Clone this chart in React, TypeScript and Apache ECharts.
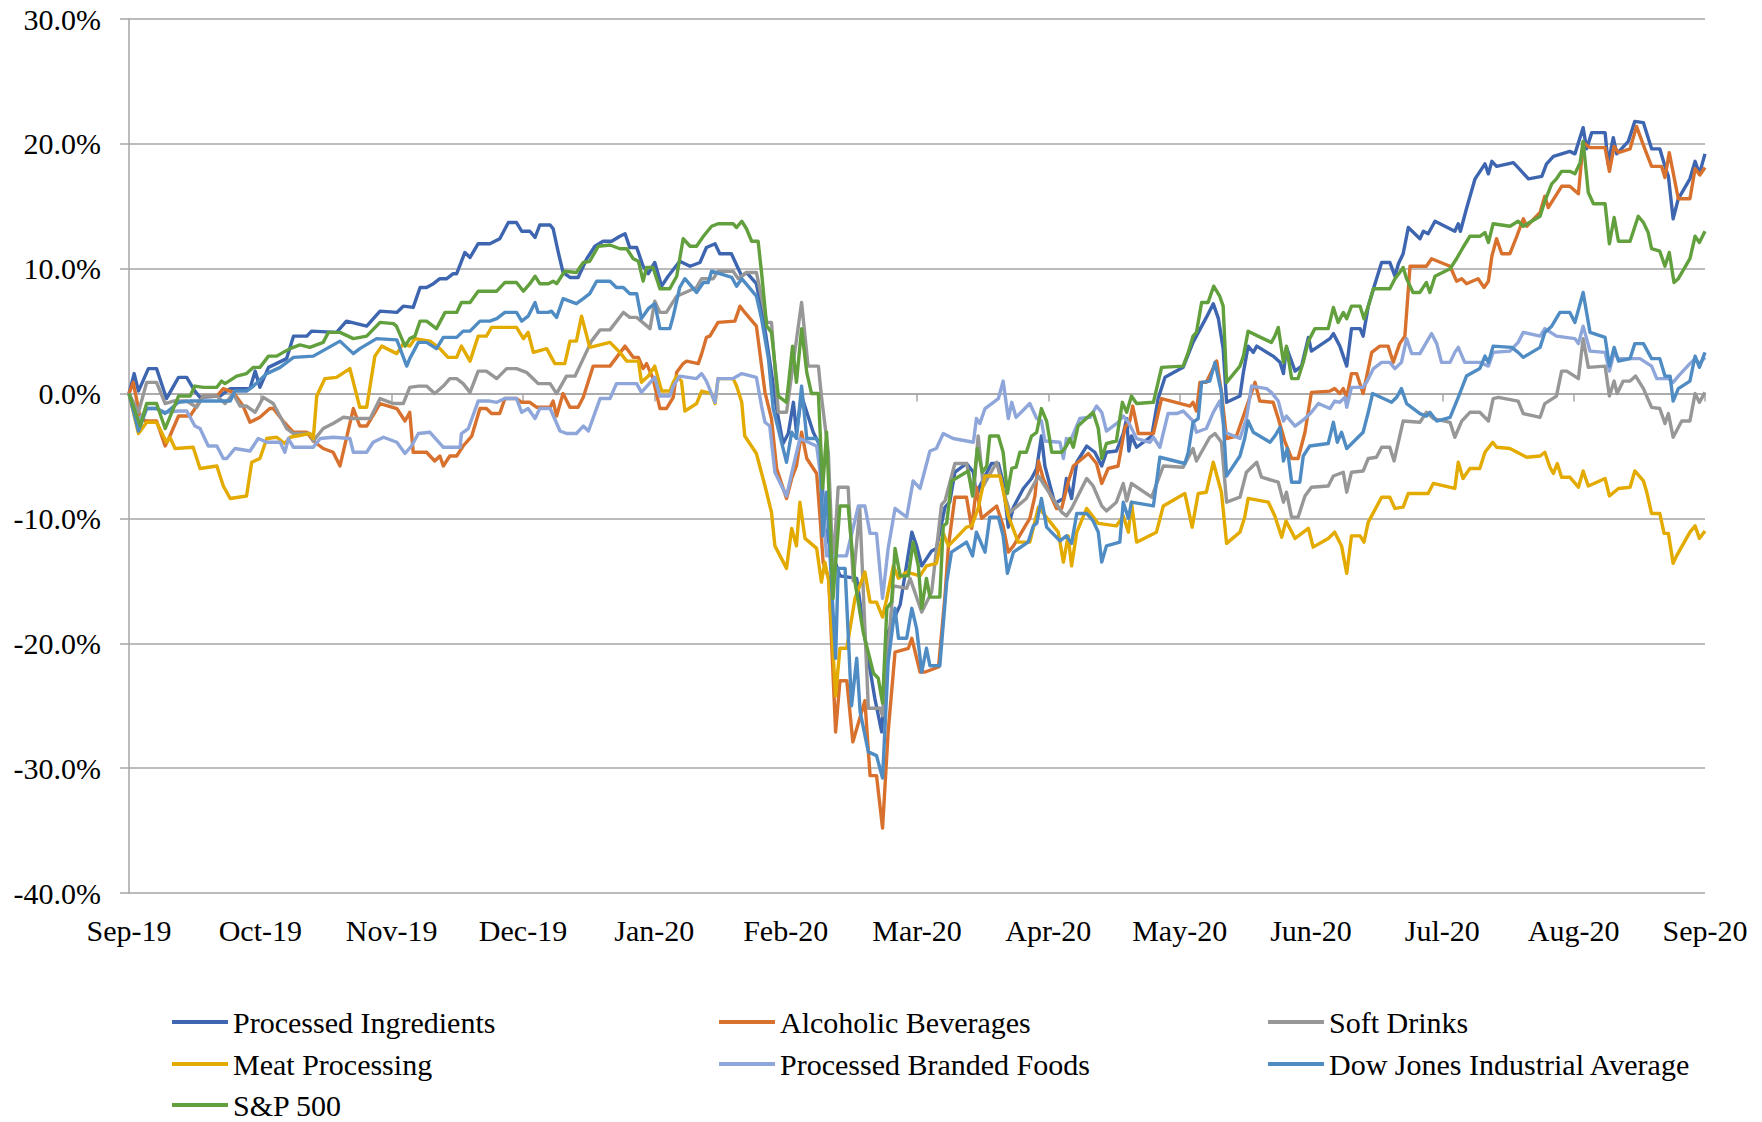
import React, { useEffect, useRef } from 'react';
import * as echarts from 'echarts';

type Pt = [number, number];

// x = days since the Sep-19 tick (Sep-20 tick = 366), y = % change
const monthLabels = ['Sep-19', 'Oct-19', 'Nov-19', 'Dec-19', 'Jan-20', 'Feb-20', 'Mar-20', 'Apr-20', 'May-20', 'Jun-20', 'Jul-20', 'Aug-20', 'Sep-20'];

const processedIngredients: Pt[] = [
  [0, 0], [1.2, 1.6], [2.2, 0.2], [4.5, 2.0], [6.4, 2.0], [8.7, -0.4], [11.5, 1.3], [13.4, 1.3], [15.3, 0.2], [16.5, -0.3], [21.1, -0.2], [23.5, 0.4], [28.1, 0.4], [29.3, 1.8], [30.4, 0.5], [32.4, 2.1], [36.6, 2.8], [38.2, 4.6], [41.3, 4.6], [42.4, 5.0], [48.2, 4.9], [50.5, 5.8], [55.2, 5.4], [58.3, 6.6], [62.2, 6.5], [63.7, 7.0],
  [66.0, 6.9], [67.6, 8.5], [69.1, 8.5], [70.7, 8.8], [72.2, 9.2], [73.8, 9.2], [75.3, 9.6], [76.1, 9.6], [78.0, 11.3], [79.2, 10.9], [81.1, 12.0], [83.8, 12.0], [86.1, 12.4], [88.1, 13.7], [90.0, 13.7], [91.2, 13.0], [93.1, 13.0], [94.3, 12.5], [95.4, 13.5], [97.8, 13.5], [98.5, 13.2], [99.7, 11.3], [100.8, 9.7], [102.4, 9.3], [104.3, 9.3], [106.3, 10.8], [108.2, 11.8], [110.1, 12.2], [112.1, 12.2], [114.0, 12.6], [115.2, 12.8], [116.3, 11.7], [117.9, 11.7], [119.4, 10.2], [120.6, 9.6], [122.1, 10.5], [123.7, 8.6],
  [125.2, 9.4], [127.9, 10.6], [130.3, 10.2], [132.6, 10.5], [134.1, 11.7], [136.1, 12.0], [137.2, 11.2], [139.9, 11.2], [142.3, 9.4], [143.4, 9.7], [145.7, 8.8], [147.3, 6.0], [148.5, 3.3], [150.4, -1.2], [151.9, -4.0], [153.1, -3.2], [154.3, -0.7], [155.0, -3.1], [156.2, -0.2], [158.9, -3.1], [160.5, -4.2], [161.6, -10.8], [163.2, -12.7], [165.1, -14.6], [169.0, -14.8], [170.9, -19.6], [173.2, -24.4], [174.8, -27.1], [176.3, -19.1], [179.1, -16.9], [181.8, -11.1], [182.9, -12.2], [184.1, -13.8], [186.4, -12.6], [187.5, -12.4], [189.5, -9.1], [190.6, -8.7], [191.8, -6.3], [194.5, -5.6], [196.1, -6.3], [196.8, -8.3], [197.6, -7.4], [200.3, -5.6], [201.9, -5.6], [203.0, -7.1], [204.2, -10.7], [205.4, -9.1], [207.7, -7.6], [209.6, -6.8], [210.8, -6.0], [211.9, -3.4], [212.7, -5.8], [215.0, -8.8], [217.0, -8.4], [217.7, -6.8], [218.9, -8.4], [220.1, -5.5], [222.4, -4.2], [224.3, -4.7], [225.9, -5.8], [227.0, -4.7], [229.3, -4.6], [230.9, -3.2], [231.7, -2.0], [232.2, -4.6], [232.8, -3.4], [234.0, -4.3], [237.5, -3.4], [239.0, -0.4], [240.6, 1.3], [244.8, 2.1], [247.1, 4.1], [250.2, 6.1], [251.8, 7.2],
  [253.0, 6.0], [254.1, 3.6], [254.9, -0.7], [258.0, -0.2], [258.8, 1.7], [259.9, 3.8], [261.1, 3.3], [261.9, 3.8], [265.7, 3.0], [267.3, 2.5], [268.1, 1.6], [268.8, 3.7], [270.8, 1.8], [272.3, 2.2], [273.9, 4.5], [274.6, 3.4], [278.9, 4.4], [279.7, 4.8], [281.2, 3.8], [282.8, 2.2], [283.9, 5.2], [285.9, 5.2], [286.6, 4.6], [287.8, 7.0], [289.0, 8.4], [290.9, 10.5], [292.8, 10.5], [294.0, 9.4], [294.8, 10.4], [295.9, 11.2], [297.1, 13.3], [299.8, 12.4], [300.6, 13.0], [301.7, 12.8], [303.3, 13.8], [307.9, 13.0], [308.7, 13.6], [309.2, 13.0], [310.6, 14.8],
  [312.6, 17.2], [314.9, 18.4], [315.7, 17.6], [316.5, 18.6], [317.6, 18.2], [321.5, 18.5], [322.6, 18.1], [325.0, 17.2], [328.1, 17.4], [329.2, 18.4], [330.8, 19.0], [334.6, 19.4], [335.8, 19.2], [337.7, 21.3], [338.5, 19.6], [339.7, 20.9], [342.8, 20.9], [343.5, 18.4], [344.7, 20.5], [345.5, 19.2], [348.2, 20.2], [349.7, 21.8], [351.7, 21.7], [353.6, 19.6], [355.5, 19.6], [356.7, 18.2], [357.5, 17.4], [358.6, 14.0], [359.8, 15.6], [362.5, 17.2], [363.7, 18.6], [364.7, 17.6], [366, 19.2],
];

const alcoholicBeverages: Pt[] = [
  [0, 0], [1.0, 0.9], [2.6, -2.0], [4.1, -2.2], [6.4, -2.2], [8.4, -4.2], [9.5, -3.4], [11.5, -1.8], [14.2, -1.8], [15.7, -1.0], [17.3, -0.2], [20.4, -0.2], [21.9, 0.4], [24.2, 0.1], [26.5, -1.0], [28.1, -2.3], [30.4, -1.9], [32.7, -1.2], [33.5, -1.2], [35.8, -2.2], [38.2, -3.1], [41.3, -3.1], [42.8, -3.8], [45.1, -4.4], [47.4, -4.7], [49.0, -5.8], [52.1, -1.2], [53.6, -2.6], [55.2, -2.6], [58.3, -0.8], [62.2, -1.2], [64.1, -2.2],
  [65.2, -1.5], [66.0, -4.7], [69.1, -4.7], [71.0, -5.4], [72.2, -5.0], [73.0, -5.8], [74.5, -5.0], [76.1, -5.0], [77.6, -4.2], [79.6, -3.4], [81.5, -1.2], [83.0, -1.2], [84.2, -1.6], [86.1, -1.6], [87.3, -0.4], [90.0, -0.4], [91.2, -0.7], [93.1, -0.7], [94.7, -1.1], [97.8, -1.1], [98.5, -0.6], [99.3, -1.8], [100.8, 0], [102.4, -1.1], [104.3, -1.1], [105.5, -0.3], [107.8, 2.2], [111.7, 2.2], [115.2, 3.8], [117.1, 2.9], [118.3, 2.9], [119.4, 2.0], [120.2, 2.4], [121.7, 1.2], [123.3, -1.2],
  [124.8, -1.2], [126.4, -0.3], [127.2, 1.7], [128.7, 2.4], [129.5, 2.6], [132.2, 2.4], [133.0, 3.2], [134.1, 4.5], [134.9, 4.6], [136.8, 5.7], [140.7, 5.8], [141.9, 7.0], [143.0, 6.5], [145.7, 5.4], [146.5, 3.3], [147.7, 0.1], [149.2, -2.0], [150.4, -6.0], [152.7, -8.4], [153.9, -6.8], [155.0, -5.8], [156.2, -3.1], [157.4, -5.2], [159.7, -6.4], [160.5, -10.0], [161.2, -13.5], [162.5, -14.8], [164.1, -27.1], [165.1, -23.0], [166.7, -23.0], [168.1, -27.9], [170.9, -24.6], [172.1, -30.6], [173.6, -30.6], [175.0, -34.8], [176.3, -27.1], [177.9, -20.7], [181.0, -20.4], [181.8, -19.6], [183.7, -22.3], [184.9, -22.3], [188.0, -21.9], [189.5, -16.2],
  [190.3, -12.2], [191.8, -8.3], [194.5, -8.3], [195.7, -10.8], [196.8, -7.5], [198.0, -10.0], [201.5, -9.0], [203.0, -10.6], [204.2, -12.7], [205.4, -12.2], [209.2, -10.0], [210.4, -8.2], [211.2, -5.4], [212.3, -6.8], [215.4, -9.2], [216.6, -9.2], [218.1, -7.1], [219.3, -5.8], [222.8, -4.8], [224.7, -5.6], [225.9, -7.2], [227.4, -6.0], [229.7, -5.8], [231.3, -2.7], [232.4, -2.2], [233.1, -1.0], [234.4, -3.2], [237.9, -3.2], [239.8, -0.4], [246.4, -1.0], [247.1, -0.7], [247.9, -1.4], [248.7, 0.9], [250.2, 0.9], [252.6, 2.6],
  [253.7, 0.1], [254.9, -3.6], [257.2, -3.4], [258.8, -1.8], [261.5, 0.9], [262.6, -0.6], [265.7, -0.7], [266.9, -2.0], [268.4, -3.8], [270.0, -5.2], [271.5, -5.2], [273.1, -3.1], [274.6, 0.1], [278.9, 0.2], [280.0, 0.4], [281.2, 0], [282.0, 0.4], [282.8, -0.3], [283.9, 1.6], [285.1, 1.6], [286.6, 0], [288.6, 3.3], [290.5, 3.8], [292.4, 3.8], [293.6, 2.5], [295.1, 4.0], [296.3, 4.6], [297.5, 10.2], [301.3, 10.2], [302.5, 10.8], [306.8, 10.2], [308.3, 9.0], [309.5, 9.2], [310.6, 8.8], [313.3, 9.2], [314.7, 8.5],
  [315.7, 9.0], [316.5, 11.0], [317.6, 12.4], [318.8, 11.2], [320.7, 11.2], [322.3, 12.6], [323.8, 14.0], [324.6, 13.4], [327.7, 14.5], [328.8, 15.8], [329.6, 14.9], [332.7, 16.6], [334.6, 16.6], [336.6, 16.0], [337.7, 20.1], [339.3, 19.7], [342.8, 19.7], [343.8, 17.8], [344.9, 19.8], [345.9, 19.3], [348.6, 19.6], [350.1, 21.4], [351.8, 19.8], [353.6, 18.2], [355.9, 18.2], [356.7, 17.3], [357.7, 19.3], [359.8, 15.6], [362.5, 15.6], [363.7, 18.0], [364.8, 17.5], [366, 18.1],
];

const softDrinks: Pt[] = [
  [0, 0], [2.2, -1.5], [4.1, 0.9], [6.4, 0.9], [8.4, -0.8], [10.3, -0.6], [13.4, -0.6], [15.7, -1.1], [17.3, -0.2], [20.4, -0.2], [22.3, -0.8], [24.2, 0], [25.8, -1.0], [27.3, -1.0], [29.3, -1.5], [31.2, -0.3], [33.5, -0.8], [36.6, -2.8], [38.2, -3.2], [42.0, -3.2], [42.8, -3.8], [45.1, -2.8], [47.4, -2.4], [49.8, -1.9], [52.1, -2.0], [56.0, -2.0], [58.3, -0.4], [61.4, -0.8], [63.7, -0.8],
  [65.2, 0.5], [67.2, 0.6], [69.1, 0.6], [71.0, 0], [73.0, 0.6], [74.5, 1.2], [76.1, 1.2], [77.6, 0.8], [79.2, 0.1], [81.1, 1.8], [83.0, 1.8], [85.4, 1.2], [87.7, 2.0], [90.0, 2.0], [92.3, 1.7], [95.0, 0.8], [97.8, 0.8], [99.3, 0], [101.6, 1.4], [103.6, 1.4], [105.5, 2.8], [107.4, 4.2], [109.4, 5.1], [111.7, 5.1], [114.8, 6.5], [116.3, 6.1], [117.9, 6.1], [121.0, 5.2], [122.1, 7.4], [123.3, 6.5],
  [124.8, 6.5], [127.2, 7.8], [131.8, 8.5], [133.0, 9.2], [135.7, 9.2], [136.8, 9.8], [140.3, 9.8], [141.5, 9.2], [143.4, 9.7], [145.7, 9.7], [148.1, 5.7], [149.2, 5.7], [150.8, -1.5], [152.7, -1.5], [154.6, 3.3], [156.2, 7.3], [157.7, 2.2], [160.1, 2.2], [160.8, -0.2], [162.4, -4.7], [163.5, -14.0], [164.7, -7.5], [167.0, -7.5], [168.2, -15.0], [169.7, -9.2], [171.7, -25.2], [174.4, -25.2], [175.0, -25.8], [177.5, -15.4], [180.6, -15.6], [181.4, -14.8], [184.1, -17.5], [186.4, -15.9], [188.7, -8.9],
  [189.5, -8.6], [191.8, -5.6], [194.5, -5.6], [196.1, -8.2], [197.2, -3.4], [198.4, -7.4], [201.5, -5.5], [203.4, -8.2], [204.6, -9.5], [208.4, -8.4], [209.6, -7.6], [211.2, -6.6], [212.7, -7.4], [216.6, -9.5], [217.7, -9.8], [218.9, -9.2], [222.4, -6.8], [223.9, -7.4], [225.9, -9.0], [227.0, -9.4], [229.3, -8.7], [230.9, -7.2], [231.7, -8.6], [232.8, -7.2], [237.5, -8.3], [240.2, -5.8], [244.8, -5.9], [247.1, -4.4], [247.9, -5.4], [251.0, -3.5], [252.2, -3.2],
  [253.7, -3.9], [254.9, -8.7], [258.0, -8.3], [259.5, -6.3], [261.9, -5.5], [263.0, -6.7], [266.9, -7.1], [268.1, -8.7], [268.8, -7.9], [270.0, -9.9], [271.5, -9.9], [273.1, -8.2], [274.6, -7.5], [278.5, -7.4], [279.7, -6.6], [282.0, -6.3], [282.8, -7.9], [283.9, -6.3], [286.6, -6.2], [287.8, -5.2], [289.7, -5.1], [290.9, -4.3], [292.8, -4.3], [293.8, -5.4], [295.9, -2.2], [299.8, -2.3], [301.3, -1.5], [302.9, -2.0], [306.8, -2.3], [307.9, -3.5], [309.5, -2.2], [311.4, -1.5], [313.7, -1.5], [315.7, -2.2],
  [316.8, -0.4], [318.0, -0.3], [322.6, -0.6], [323.8, -1.6], [327.7, -1.9], [328.8, -0.8], [331.5, -0.2], [332.7, 1.8], [333.9, 1.8], [336.6, 1.2], [337.7, 4.4], [338.9, 2.1], [342.8, 2.2], [343.8, -0.2], [344.9, 1.0], [345.6, 0], [347.0, 1.0], [348.6, 1.0], [349.9, 1.4], [351.7, 0.4], [353.6, -1.1], [355.5, -1.2], [356.7, -2.4], [357.5, -1.6], [358.6, -3.5], [360.6, -2.2], [362.5, -2.2], [363.7, 0], [364.7, -0.7], [366, 0.1],
];

const meatProcessing: Pt[] = [
  [0, 0], [2.2, -3.2], [4.1, -2.3], [6.4, -2.3], [8.7, -3.9], [9.5, -3.5], [10.7, -4.4], [14.9, -4.3], [16.5, -6.0], [20.4, -5.8], [21.9, -7.4], [23.5, -8.4], [27.3, -8.2], [28.5, -5.5], [30.4, -5.2], [32.0, -3.6], [34.3, -3.5], [36.2, -4.0], [37.4, -3.5], [42.0, -3.2], [42.8, -3.6], [43.6, -0.2], [45.5, 1.2], [48.2, 1.3], [51.3, 2.0], [53.6, -1.1], [55.2, -1.1], [57.1, 3.0], [58.7, 3.8], [62.2, 3.2], [63.7, 4.0],
  [65.2, 3.8], [66.4, 4.4], [69.9, 4.2], [72.2, 3.6], [74.1, 2.9], [76.1, 2.9], [77.2, 3.8], [79.2, 2.6], [81.1, 4.6], [83.0, 4.6], [84.2, 5.3], [90.0, 5.3], [91.6, 4.4], [92.7, 4.9], [93.9, 3.3], [97.0, 3.6], [98.9, 2.4], [101.2, 2.4], [102.4, 4.2], [103.9, 4.2], [105.1, 6.2], [107.0, 3.7], [111.7, 4.1], [114.0, 3.3], [115.6, 2.6], [118.3, 2.6], [119.0, 0.9], [120.6, 1.4], [122.1, 2.2], [123.7, 0.2], [125.6, 0.2],
  [126.4, 0.9], [127.2, 1.4], [128.3, 1.0], [129.1, -1.4], [131.8, -0.8], [133.0, 0.2], [135.3, 0], [136.1, -0.8], [136.8, 1.2], [140.3, 1.2], [141.1, 0.6], [142.3, -0.7], [143.0, -3.4], [145.7, -4.8], [147.7, -7.4], [149.2, -9.5], [150.0, -12.2], [152.7, -14.0], [153.9, -10.8], [155.0, -12.2], [155.8, -8.7], [157.0, -11.6], [159.7, -12.4], [160.8, -15.1], [161.6, -13.5], [162.5, -15.0], [164.1, -24.2], [165.1, -20.4], [166.7, -20.4], [168.6, -16.4], [170.9, -14.3], [172.1, -16.7], [173.6, -16.7], [175.0, -17.9], [176.0, -16.4], [177.5, -13.8], [178.7, -14.8], [180.6, -14.3], [183.7, -14.6], [185.2, -13.8], [187.5, -13.6],
  [189.1, -11.2], [190.3, -12.2], [194.5, -10.7], [195.7, -10.6], [197.2, -9.2], [198.8, -6.6], [202.3, -6.6], [204.2, -9.8], [206.5, -11.9], [209.2, -11.9], [211.2, -9.1], [215.8, -11.1], [217.0, -13.5], [218.1, -11.4], [218.9, -13.8], [220.1, -11.1], [222.4, -9.2], [225.1, -10.4], [229.3, -10.6], [230.9, -9.8], [232.1, -11.1], [232.8, -8.7], [234.0, -11.9], [238.6, -11.1], [240.2, -9.0], [245.2, -8.0], [246.9, -10.7], [248.3, -8.0], [250.2, -7.9], [251.8, -5.5],
  [253.7, -7.9], [254.9, -12.0], [258.0, -11.1], [259.1, -9.9], [259.9, -8.4], [264.6, -8.7], [266.1, -9.8], [267.7, -11.5], [268.7, -10.2], [270.8, -11.6], [273.9, -10.8], [275.0, -12.3], [278.5, -11.6], [280.0, -11.1], [281.6, -12.2], [282.8, -14.4], [283.9, -11.4], [285.9, -11.4], [286.8, -11.9], [287.8, -10.3], [290.9, -8.3], [292.8, -8.3], [294.0, -9.2], [295.9, -9.1], [297.1, -8.0], [301.7, -8.0], [302.9, -7.2], [307.9, -7.6], [308.7, -5.5], [309.8, -6.8], [311.4, -6.0], [313.7, -6.0], [314.9, -4.7],
  [316.7, -3.9], [317.6, -4.3], [320.7, -4.4], [324.6, -5.1], [327.7, -5.0], [328.8, -4.7], [330.0, -5.9], [330.8, -6.4], [331.7, -5.6], [332.7, -6.7], [334.6, -6.7], [336.6, -7.5], [337.7, -6.2], [338.9, -7.4], [342.8, -6.8], [343.8, -8.2], [345.9, -7.6], [348.6, -7.5], [349.7, -6.2], [351.7, -7.0], [352.4, -7.8], [353.6, -9.6], [355.5, -9.6], [356.5, -11.2], [357.5, -11.2], [358.6, -13.6], [359.4, -13.0], [362.5, -11.1], [363.7, -10.6], [364.7, -11.6], [366, -11.0],
];

const processedBrandedFoods: Pt[] = [
  [0, 0], [2.2, -2.2], [4.1, -1.2], [6.4, -1.2], [8.4, -1.5], [11.5, -1.4], [13.4, -1.4], [15.3, -2.6], [16.5, -2.8], [18.4, -4.2], [20.4, -4.2], [21.9, -5.2], [22.7, -5.2], [24.6, -4.4], [28.1, -4.6], [30.0, -3.6], [32.0, -3.9], [35.1, -3.9], [36.2, -4.7], [37.0, -3.6], [38.2, -4.3], [42.8, -4.3], [44.4, -3.6], [47.4, -3.5], [51.3, -3.6], [52.1, -4.7], [55.2, -4.7], [56.7, -3.9], [59.1, -3.5], [62.2, -3.9], [64.1, -4.8],
  [65.6, -4.2], [67.2, -3.2], [69.9, -3.1], [73.0, -4.3], [76.9, -4.3], [77.2, -3.2], [78.8, -2.8], [81.1, -0.6], [83.8, -0.6], [85.4, -0.7], [87.3, -0.4], [90.0, -0.4], [91.2, -1.5], [92.7, -1.2], [94.3, -2.0], [95.4, -1.2], [97.8, -1.2], [100.1, -3.0], [101.6, -3.2], [103.9, -3.2], [105.5, -2.6], [106.7, -3.0], [109.4, -0.4], [111.7, -0.4], [113.2, 0.8], [117.9, 0.8], [119.0, 0.1], [122.1, 1.3], [123.3, -0.2], [125.6, -0.2],
  [126.4, 0.6], [127.9, 1.4], [131.8, 1.2], [133.0, 1.6], [134.1, 1.0], [136.1, -0.7], [136.8, 1.2], [140.3, 1.2], [142.3, 1.6], [145.7, 1.3], [146.9, -1.0], [147.7, -2.3], [148.8, -2.6], [150.0, -6.3], [152.7, -8.2], [154.3, -5.8], [155.8, -3.6], [159.7, -4.2], [160.5, -6.3], [162.0, -13.0], [166.6, -13.0], [169.4, -9.0], [170.9, -9.0], [172.1, -11.2], [173.6, -11.2], [175.0, -16.4], [176.3, -12.4], [177.9, -9.2], [180.6, -9.9], [182.1, -7.0], [183.7, -7.6], [186.0, -4.6], [187.5, -4.4], [189.1, -3.2],
  [191.4, -3.6], [196.1, -3.9], [196.8, -2.0], [197.6, -2.4], [198.8, -1.2], [201.9, -0.4], [203.0, 1.0], [204.2, -2.0], [205.0, -0.7], [206.0, -1.9], [209.2, -0.8], [210.8, -2.0], [211.9, -2.2], [212.7, -3.8], [216.2, -3.9], [217.0, -5.2], [217.7, -3.6], [218.5, -3.9], [220.8, -2.0], [223.2, -1.9], [224.7, -1.0], [225.9, -1.5], [227.0, -3.0], [229.7, -2.3], [230.9, -1.8], [232.1, -2.3], [234.0, -3.6], [237.1, -3.9], [237.9, -3.5], [239.4, -4.3], [241.3, -1.6], [243.3, -1.6], [244.8, -1.4], [247.1, -2.2], [247.9, -3.1], [250.2, -2.8], [251.8, -1.5], [253.3, -0.6],
  [254.5, -3.1], [258.0, -3.6], [259.5, -2.0], [260.7, 0.6], [264.2, 0.4], [265.3, 0.1], [266.9, -0.6], [268.1, -2.2], [268.8, -1.8], [270.8, -2.6], [273.1, -2.0], [274.6, -1.5], [276.2, -0.8], [278.9, -1.2], [280.0, -0.6], [281.2, -0.7], [282.4, -0.3], [282.8, -1.1], [283.9, 0.5], [286.6, 0.5], [287.4, 0.9], [289.0, 2.0], [290.9, 2.5], [292.8, 2.5], [294.0, 2.0], [295.5, 2.5], [296.7, 4.4], [297.9, 3.2], [299.8, 3.2], [301.3, 4.1], [302.5, 4.8], [303.7, 4.0], [304.8, 2.5], [306.8, 2.5], [307.9, 3.3], [308.7, 3.7], [310.2, 2.5], [313.7, 2.5],
  [315.7, 2.2], [316.8, 3.3], [320.7, 3.4], [322.6, 4.1], [323.8, 4.9], [327.7, 4.6], [328.8, 5.2], [331.5, 4.6], [335.8, 4.4], [336.6, 4.0], [337.7, 5.4], [339.3, 3.4], [342.8, 3.3], [343.8, 1.8], [344.9, 3.3], [345.9, 2.8], [350.9, 2.8], [353.6, 2.2], [354.8, 1.2], [357.5, 1.2], [358.6, 0.9], [359.8, 1.4], [362.5, 2.4], [363.7, 2.8], [364.7, 2.4], [366, 2.9],
];

const dowJones: Pt[] = [
  [0, 0], [2.2, -3.0], [4.1, -1.2], [6.4, -1.2], [8.4, -1.6], [11.5, -0.7], [14.2, -0.6], [23.5, -0.6], [24.6, 0.2], [27.3, 0.2], [28.9, 0.6], [32.0, 1.6], [35.1, 2.1], [38.2, 2.9], [42.8, 3.0], [45.9, 3.6], [49.0, 4.2], [52.1, 3.2], [53.6, 3.6], [57.5, 4.4], [62.2, 4.3], [64.5, 2.2],
  [65.2, 2.8], [67.2, 4.1], [69.1, 4.1], [71.4, 3.6], [73.0, 4.5], [76.1, 4.5], [77.6, 5.0], [79.2, 5.0], [81.5, 5.8], [83.8, 5.8], [85.4, 6.0], [87.3, 6.5], [90.0, 6.5], [91.2, 5.8], [92.7, 6.2], [94.3, 7.3], [95.0, 6.5], [97.4, 6.5], [98.1, 6.6], [99.3, 6.1], [100.8, 7.6], [103.9, 7.2], [105.5, 7.6], [107.0, 8.0], [108.6, 9.0], [111.7, 9.0], [113.2, 8.5], [114.8, 8.5], [116.3, 8.0], [117.9, 8.0], [119.0, 6.0], [120.6, 6.8], [122.1, 7.2], [123.3, 5.2], [125.6, 5.2],
  [126.4, 6.2], [127.9, 8.5], [129.1, 9.2], [131.8, 8.1], [133.4, 8.9], [134.5, 8.9], [135.3, 9.8], [140.0, 9.3], [141.1, 8.6], [142.3, 9.2], [145.7, 7.8], [146.9, 6.0], [148.5, 2.8], [149.6, -1.2], [152.7, -5.5], [153.9, -3.1], [155.0, -3.6], [156.2, 0.6], [157.4, -3.6], [159.7, -3.6], [160.5, -4.2], [161.1, -11.4], [162.0, -7.9], [164.1, -21.2], [164.7, -14.0], [166.3, -14.0], [167.8, -25.0], [169.0, -21.2], [169.8, -25.5], [171.7, -28.7], [173.6, -29.0], [175.0, -30.8], [176.3, -21.5], [177.9, -17.2], [178.7, -19.6], [180.6, -19.6], [181.8, -17.2], [182.9, -18.8], [184.1, -22.3], [185.2, -20.4], [186.0, -21.8], [188.3, -21.8],
  [189.9, -15.1], [191.0, -12.7], [194.5, -11.9], [195.9, -13.0], [196.8, -11.1], [198.8, -12.7], [199.9, -9.9], [201.9, -9.9], [203.0, -11.4], [204.0, -14.4], [205.4, -12.7], [208.8, -11.9], [210.0, -10.6], [210.8, -10.4], [211.9, -8.4], [213.1, -10.7], [216.2, -11.8], [217.7, -11.4], [218.9, -12.0], [220.1, -9.6], [222.4, -9.6], [223.9, -10.2], [225.1, -11.1], [225.9, -13.5], [227.0, -12.2], [230.1, -11.9], [230.9, -8.7], [232.1, -10.0], [232.8, -8.7], [237.9, -9.0], [239.4, -5.1], [245.2, -5.6], [246.0, -4.7], [247.1, -2.3], [248.3, -2.0], [249.1, 0.9], [251.0, 1.0], [252.2, 2.5],
  [253.0, 1.2], [253.7, 0.1], [254.9, -6.6], [258.0, -5.0], [259.1, -3.6], [259.9, -2.2], [261.1, -3.1], [265.0, -3.9], [266.1, -3.4], [267.3, -2.7], [268.1, -5.4], [269.0, -4.4], [270.0, -7.1], [271.9, -7.1], [272.7, -5.0], [274.2, -4.2], [278.5, -4.0], [279.7, -2.3], [280.6, -3.9], [281.6, -3.1], [282.8, -4.4], [286.6, -3.1], [287.8, -1.5], [288.8, 0], [293.2, -0.7], [294.4, -0.3], [295.5, 0.4], [296.7, -0.8], [299.8, -1.6], [301.3, -1.8], [302.1, -1.5], [303.7, -2.2], [306.8, -1.9], [308.7, -0.3], [310.6, 1.4], [313.7, 2.0], [314.9, 3.0],
  [315.7, 2.5], [316.8, 3.8], [321.1, 3.7], [322.6, 3.3], [323.8, 2.9], [327.7, 3.7], [328.8, 4.9], [330.4, 5.4], [332.3, 6.5], [334.6, 6.5], [335.8, 5.7], [337.7, 8.1], [339.3, 4.9], [342.8, 4.5], [343.8, 2.2], [344.9, 3.7], [345.9, 2.6], [348.6, 2.8], [349.7, 4.0], [351.7, 4.0], [353.6, 2.8], [355.5, 2.8], [356.7, 1.4], [357.9, 1.4], [358.6, -0.6], [359.8, 0.4], [362.5, 1.0], [363.7, 3.0], [364.7, 2.1], [366, 3.3],
];

const sp500: Pt[] = [
  [0, 0], [2.6, -2.6], [4.1, -0.8], [6.4, -0.8], [8.4, -2.8], [11.5, -0.2], [14.2, -0.2], [15.3, 0.6], [17.3, 0.5], [20.4, 0.5], [21.5, 1.0], [22.3, 0.8], [25.0, 1.4], [27.3, 1.6], [28.9, 2.1], [30.4, 2.1], [32.4, 3.0], [34.3, 3.0], [35.8, 3.3], [37.4, 3.6], [39.7, 3.9], [42.0, 3.7], [45.1, 4.1], [46.3, 4.9], [49.0, 4.9], [52.1, 4.4], [55.2, 4.6], [58.3, 5.7], [61.4, 5.6], [62.1, 5.4], [64.1, 3.8],
  [65.2, 4.4], [66.4, 4.6], [67.6, 5.8], [69.1, 5.8], [71.4, 5.2], [73.4, 6.5], [76.1, 6.5], [77.2, 7.3], [79.2, 7.3], [81.1, 8.2], [85.4, 8.2], [87.3, 8.9], [90.0, 8.9], [91.6, 8.2], [93.1, 8.8], [94.3, 9.4], [95.4, 8.8], [97.4, 8.8], [98.5, 9.0], [99.3, 8.8], [101.2, 9.8], [103.9, 9.7], [105.5, 10.5], [107.0, 10.6], [109.0, 11.8], [111.7, 11.9], [114.0, 11.6], [115.6, 11.6], [117.1, 10.8], [118.3, 10.6], [119.4, 9.0], [120.2, 10.1], [121.7, 10.1], [123.3, 8.4], [125.6, 8.4],
  [127.2, 9.4], [128.7, 12.4], [130.3, 11.8], [131.8, 11.8], [133.4, 12.6], [135.3, 13.4], [136.8, 13.6], [140.3, 13.6], [141.1, 13.3], [142.3, 13.8], [143.4, 13.2], [144.6, 12.2], [146.1, 12.2], [146.9, 9.7], [148.1, 5.4], [149.2, 4.9], [150.8, -0.2], [152.7, -0.7], [154.1, 3.8], [155.0, 0.9], [156.2, 5.2], [157.4, 1.7], [158.5, 0], [160.1, 0], [161.1, -7.6], [162.0, -3.1], [163.5, -16.4], [165.1, -9.0], [167.0, -9.0], [168.6, -15.1], [170.5, -19.1], [172.9, -22.4], [174.0, -22.8], [175.0, -24.8], [176.0, -17.2], [177.1, -16.7], [177.9, -12.4], [179.1, -14.6], [181.0, -14.6], [182.1, -11.9], [183.3, -13.8], [184.1, -17.2], [185.2, -14.8], [186.0, -16.3], [188.3, -16.3],
  [189.1, -10.6], [189.9, -10.4], [191.0, -7.0], [194.9, -6.2], [195.9, -8.2], [197.0, -4.4], [198.2, -6.3], [199.2, -5.8], [199.9, -3.4], [201.9, -3.4], [203.0, -4.7], [204.0, -8.0], [205.0, -6.0], [206.0, -5.9], [206.9, -4.7], [208.4, -4.7], [209.6, -3.4], [210.8, -3.1], [211.9, -1.2], [213.1, -2.2], [214.3, -4.7], [216.6, -4.7], [217.7, -4.2], [218.5, -3.6], [219.3, -4.3], [220.4, -2.6], [223.9, -1.5], [225.1, -2.8], [225.9, -5.2], [227.0, -4.0], [229.3, -3.8], [230.7, -0.7], [231.7, -1.5], [232.8, -0.2], [234.0, -0.8], [237.9, -0.7], [239.8, 2.1], [244.8, 2.2], [246.0, 3.3], [247.1, 4.6], [247.9, 4.9], [249.1, 7.3], [250.6, 7.3], [251.9, 8.6],
  [253.3, 7.8], [254.1, 7.0], [254.9, 0.9], [258.0, 2.2], [258.8, 3.0], [259.9, 5.0], [262.2, 4.6], [265.3, 4.1], [266.1, 4.6], [266.9, 5.3], [268.1, 2.5], [268.8, 3.8], [270.0, 1.2], [271.5, 1.2], [272.7, 2.5], [273.9, 4.2], [275.4, 5.2], [278.5, 5.2], [279.7, 6.9], [280.8, 5.7], [282.0, 6.5], [282.8, 6.0], [283.9, 7.0], [285.9, 7.0], [286.8, 6.0], [287.8, 7.0], [289.0, 8.4], [292.8, 8.4], [294.0, 9.2], [295.1, 9.7], [295.9, 10.1], [296.7, 9.2], [298.2, 8.1], [299.8, 8.1], [301.3, 8.9], [302.1, 8.1], [303.3, 9.4], [306.8, 10.0], [308.3, 10.8], [309.8, 11.7], [311.4, 12.6], [313.7, 12.6], [314.9, 12.9],
  [315.7, 12.1], [316.8, 13.6], [320.7, 13.4], [322.6, 13.8], [323.8, 13.4], [327.7, 14.2], [328.8, 15.4], [330.4, 16.8], [331.5, 17.2], [332.7, 17.8], [334.6, 17.8], [335.8, 17.6], [337.0, 18.5], [337.7, 20.2], [338.9, 16.1], [340.1, 15.2], [342.8, 15.2], [343.8, 12.0], [344.9, 14.1], [345.9, 12.2], [348.6, 12.2], [350.5, 14.2], [351.7, 13.7], [352.8, 12.9], [353.6, 11.6], [355.5, 11.4], [356.7, 10.2], [357.7, 11.3], [358.8, 8.9], [359.8, 9.2], [362.5, 10.8], [363.7, 12.6], [364.7, 12.1], [366, 13.0],
];

const seriesList: { name: string; data: Pt[]; color: string }[] = [
  { name: 'Processed Ingredients', data: processedIngredients, color: '#3D65B0' },
  { name: 'Alcoholic Beverages', data: alcoholicBeverages, color: '#D8712D' },
  { name: 'Soft Drinks', data: softDrinks, color: '#979797' },
  { name: 'Meat Processing', data: meatProcessing, color: '#E3AA00' },
  { name: 'Processed Branded Foods', data: processedBrandedFoods, color: '#8EA6D9' },
  { name: 'Dow Jones Industrial Average', data: dowJones, color: '#4F8CC4' },
  { name: 'S&P 500', data: sp500, color: '#62A03E' },
];

const FONT = "'Liberation Serif', 'Times New Roman', serif";
const GRID_COLOR = '#A6A6A6';

export default function App() {
  const ref = useRef<HTMLDivElement>(null);

  useEffect(() => {
    document.body.style.margin = '0';
    const chart = echarts.init(ref.current!, null, { renderer: 'svg' });
    const legendCommon = {
      orient: 'vertical',
      icon: 'rect',
      itemWidth: 56,
      itemHeight: 4,
      itemGap: 12,
      padding: 0,
      height: 90,
      selectedMode: false,
      textStyle: { fontFamily: FONT, fontSize: 30, color: '#000', lineHeight: 30 },
    };
    chart.setOption({
      animation: false,
      backgroundColor: '#fff',
      grid: { left: 129, top: 19, right: 57, bottom: 229, containLabel: false },
      legend: [
        { ...legendCommon, left: 172, top: 1007, data: ['Processed Ingredients', 'Meat Processing'] },
        { ...legendCommon, left: 172, top: 1090, data: ['S&P 500'] },
        { ...legendCommon, left: 719, top: 1007, data: ['Alcoholic Beverages', 'Processed Branded Foods'] },
        { ...legendCommon, left: 1268, top: 1007, data: ['Soft Drinks', 'Dow Jones Industrial Average'] },
      ],
      xAxis: [
        {
          type: 'value',
          min: 0,
          max: 366,
          interval: 30.5,
          position: 'bottom',
          axisLine: { show: false, onZero: false },
          axisTick: { show: false },
          splitLine: { show: false },
          axisLabel: {
            show: true,
            showMinLabel: true,
            showMaxLabel: true,
            margin: 22,
            fontFamily: FONT,
            fontSize: 30,
            color: '#000',
            formatter: (v: number) => monthLabels[Math.round(v / 30.5)] ?? '',
          },
        },
        {
          type: 'value',
          min: 0,
          max: 366,
          interval: 30.5,
          position: 'bottom',
          axisLine: { show: true, onZero: true, onZeroAxisIndex: 0, lineStyle: { color: GRID_COLOR, width: 1.5 } },
          axisTick: { show: true, length: 8, lineStyle: { color: GRID_COLOR, width: 1.5 } },
          splitLine: { show: false },
          axisLabel: { show: false },
        },
      ],
      yAxis: {
        type: 'value',
        min: -40,
        max: 30,
        interval: 10,
        axisLine: { show: true, onZero: false, lineStyle: { color: GRID_COLOR, width: 1.5 } },
        axisTick: { show: true, length: 9, lineStyle: { color: GRID_COLOR, width: 1.5 } },
        splitLine: { show: true, lineStyle: { color: GRID_COLOR, width: 1.5 } },
        axisLabel: {
          margin: 28,
          fontFamily: FONT,
          fontSize: 30,
          color: '#000',
          formatter: (v: number) => `${v.toFixed(1)}%`,
        },
      },
      series: seriesList.map((s) => ({
        name: s.name,
        type: 'line',
        xAxisIndex: 0,
        yAxisIndex: 0,
        data: s.data,
        color: s.color,
        showSymbol: false,
        symbol: 'none',
        lineStyle: { color: s.color, width: 3.4, join: 'round' },
        emphasis: { disabled: true },
      })),
    });
    return () => chart.dispose();
  }, []);

  return <div ref={ref} style={{ width: 1762, height: 1122 }} />;
}
